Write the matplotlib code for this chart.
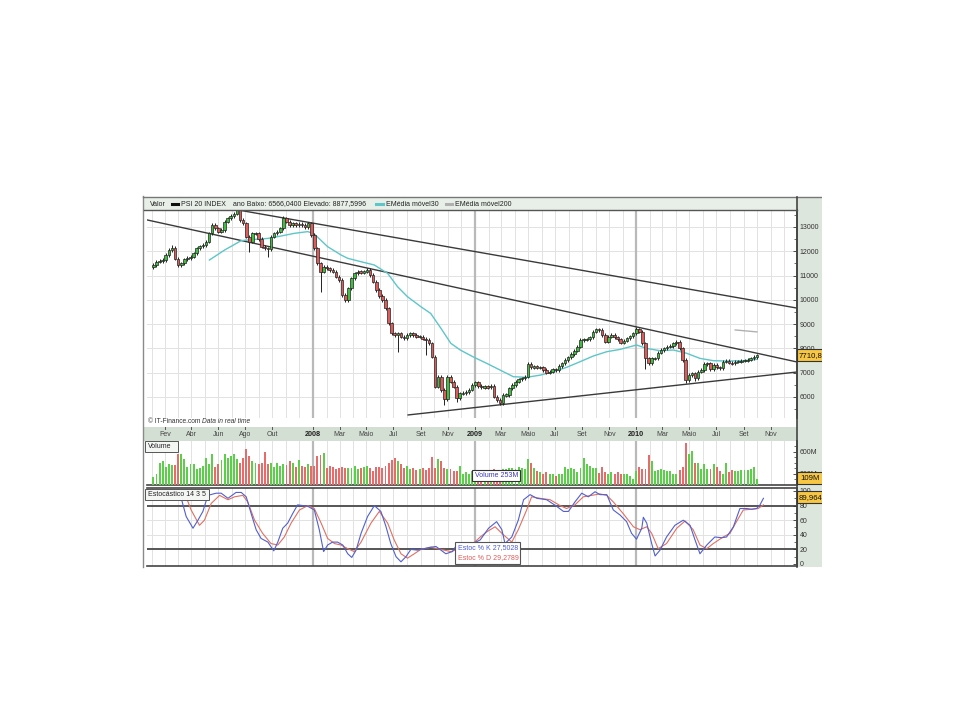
import numpy as np
import pandas as pd
import matplotlib
matplotlib.use('Agg')
import matplotlib.pyplot as plt
from matplotlib.patches import Rectangle
from matplotlib.lines import Line2D

plt.rcParams['font.family'] = ['Liberation Sans', 'DejaVu Sans']

# ---------------- data (weekly, PSI 20 INDEX) ----------------
start_date = '2007-01-05'
first_open = 11350
closes = [
    11430, 11570, 11600, 11640, 11850, 12050, 12150, 11700, 11430, 11500,
    11670, 11720, 11780, 11920, 12120, 12200, 12260, 12400, 12740, 13080,
    12950, 12810, 12880, 13220, 13360, 13450, 13550, 13700, 13290, 13150,
    12600, 12400, 12740, 12740, 12500, 12190, 12120, 12100, 12600, 12740,
    12810, 12945, 13360, 13220, 13080, 13150, 13080, 13120, 13080, 13000,
    13150, 12670, 12120, 11500, 11160, 11370, 11300, 11230, 11160, 10950,
    10820, 10200, 9990, 10470, 10890, 11090, 11160, 11130, 11160, 11230,
    11020, 10750, 10400, 10160, 9990, 9650, 9030, 8620, 8550, 8620,
    8480, 8410, 8550, 8620, 8550, 8480, 8480, 8400, 8345, 8210,
    7660, 6420, 6840, 6290, 5900, 6840, 6630, 6420, 5950, 6150,
    6170, 6200, 6300, 6500, 6600, 6450, 6400, 6420, 6400, 6450,
    6010, 5870, 5740, 6080, 6080, 6355, 6490, 6630, 6725, 6770,
    6835, 7360, 7220, 7250, 7220, 7220, 7110, 7000, 7040, 7140,
    7110, 7275, 7385, 7520, 7630, 7770, 7905, 8070, 8345, 8370,
    8370, 8450, 8690, 8785, 8760, 8550, 8280, 8480, 8550, 8455,
    8370, 8235, 8320, 8415, 8500, 8620, 8785, 8690, 8210, 7590,
    7385, 7590, 7590, 7825, 7935, 8000, 8070, 8100, 8210, 8280,
    8000, 7520, 6700, 6900, 6970, 6770, 7040, 7110, 7360, 7385,
    7140, 7320, 7220, 7180, 7455, 7495, 7410, 7385, 7455, 7455,
    7495, 7495, 7540, 7590, 7650, 7710.83,
]
notable_lows = {31: 11980, 37: 11780, 54: 10340, 62: 9900, 79: 7870, 88: 7730,
                94: 5650, 98: 5800, 112: 5670, 159: 7150, 172: 6566, 175: 6650}
notable_highs = {6: 12250, 27: 13750, 42: 13450, 143: 8850, 156: 8877.6}
wick_pad = 70

volumes_m = [
    130, 190, 400, 420, 310, 370, 355, 355, 550, 550,
    460, 320, 370, 370, 280, 300, 340, 490, 370, 550,
    310, 370, 440, 550, 490, 520, 550, 460, 400, 490,
    640, 520, 430, 400, 370, 400, 600, 370, 400, 320,
    390, 330, 380, 360, 420, 400, 320, 440, 340, 320,
    380, 330,
    330, 520, 540, 580, 300, 340, 320, 280, 300, 310,
    300, 300, 300, 340, 280, 300, 320, 340, 300, 250,
    310, 310, 300, 330, 400, 440, 480, 420, 380, 300,
    330, 280, 300, 260, 280, 300, 270, 300, 500, 300,
    460, 430, 300, 290, 290, 250, 250, 330, 200, 220,
    190, 250,
    220, 250, 260, 220, 250, 250, 280, 250, 260, 280,
    280, 300, 300, 280, 310, 300, 280, 470, 400, 300,
    240, 220, 200, 220, 200, 190, 160, 190, 200, 325,
    280, 300, 280, 220, 300, 490, 370, 340, 300, 300,
    205, 310, 220, 200, 220, 200, 220, 200, 200, 200,
    160, 100,
    250, 310, 280, 280, 540, 430, 250, 260, 280, 260,
    250, 250, 190, 200, 260, 320, 760, 550, 610, 400,
    400, 280, 370, 280, 280, 370, 310, 250, 200, 400,
    220, 260, 250, 240, 260, 260, 260, 280, 320, 109,
]

ema30_weeks = [18.1, 23, 28.4, 32.7, 37, 41.3, 45.6, 49.9, 52, 56.3, 60.6, 62.8,
               67.1, 71.4, 75.7, 78.9, 82.1, 86.4, 89.6, 92.9, 96.1, 99.2, 103.5,
               107.7, 112, 116.3, 120.6, 125, 129.2, 133.5, 137.9, 142.2, 146.5,
               150.8, 156.1, 159.4, 163.7, 168, 172.3, 176.6, 180.9, 185.2, 190.6, 194.9]
ema30_vals = [11640, 12050, 12440, 12490, 12530, 12630, 12740, 12810, 12710, 12190, 11850, 11710,
              11570, 11435, 11090, 10540, 10130, 9720, 9440, 8830, 8210, 7930, 7640,
              7385, 7110, 6835, 6810, 6900, 7040, 7220, 7455, 7690, 7865,
              7960, 8140, 8000, 7905, 7935, 7800, 7590, 7495, 7480, 7495, 7550]
ema200_weeks = [188, 195]
ema200_vals = [8760, 8680]

stoch_k_weeks = [9.0, 10.6, 12.8, 14.4, 16.0, 17.6, 20.3, 21.9, 24.1, 26.7, 28.4, 30, 31.6,
                 33.2, 34.8, 37, 38.9, 40.2, 41.8, 43.4, 45, 46.6, 48.3, 49.9, 52, 53.6, 55,
                 56.3, 57.9, 59.5, 61.2, 62.8, 64.1, 65.5, 67.1, 69.2, 71.4, 73.5, 75.1, 76.7,
                 78.4, 80, 81.6, 83.2, 85.3, 87.5, 89.6, 91.3, 92.9, 94.5, 96.6, 98.3, 100.5,
                 102.3, 105.6, 108.3, 110.9, 112.6, 113.6, 115.8, 117.9, 119.6, 121.7, 123.9,
                 127.1, 130.3, 132.5, 134.1, 136.2, 138.4, 140.5, 142.7, 144.3, 146.5, 148.6,
                 150.8, 152.9, 154.5, 156.1, 157.8, 158.3, 159.4, 161, 162.1, 163.7, 165.8,
                 168.5, 171.2, 173.4, 175, 176.6, 178.8, 181.4, 183.6, 185.2, 187.4, 189.5,
                 191.7, 193.3, 194.9, 196, 197.1]
stoch_k_vals = [90, 65, 49, 60, 72, 94, 97, 97, 90, 98, 98, 92, 69,
                47, 35, 30, 18, 30, 49, 56, 69, 81, 80, 79, 74, 47, 17,
                26, 30, 30, 26, 14, 9, 19, 42, 65, 80, 72, 52, 28,
                10, 3, 10, 20, 19, 21, 23, 24, 19, 14, 17, 28, 27,
                26, 33, 49, 58, 47, 28, 37, 60, 88, 95, 90,
                88, 79, 72, 72, 85, 97, 92, 99, 95, 95, 74,
                67, 58, 42, 34, 49, 64, 56, 28, 11, 19, 37,
                53, 60, 53, 33, 14, 26, 37, 36, 37, 51, 76,
                76, 75, 76, 81, 90]
stoch_d_weeks = [10.1, 12.2, 14.9, 16.5, 18.7, 21.4, 24.1, 26.2, 28.9, 30.5, 32.7, 35.3, 38,
                 40.2, 42.3, 44.5, 47.2, 49.9, 52, 54.2, 56.3, 58.5, 60.6, 62.8, 64.9, 67.1,
                 70.3, 73, 75.7, 77.8, 80, 82.1, 84.3, 86.4, 89.6, 92.9, 96.1, 98.3, 100.5,
                 102.3, 105.6, 107.7, 110.4, 113.1, 115.8, 117.9, 120.6, 122.2, 124.9, 128.2,
                 131.4, 133.5, 136.2, 138.9, 141.6, 144.3, 146.5, 148.6, 151.8, 155.1, 157.2,
                 159.4, 161, 163.1, 165.8, 169.1, 171.8, 174.4, 176.6, 178.8, 180.9, 184.1,
                 186.3, 188.4, 190.6, 193.3, 195.4, 197.1]
stoch_d_vals = [97, 74, 53, 60, 83, 94, 88, 92, 94, 85, 60, 42, 28,
                26, 37, 56, 74, 80, 76, 56, 35, 28, 26, 21, 17, 30,
                56, 72, 56, 33, 14, 8, 14, 20, 23, 20, 17, 20, 22,
                24, 37, 44, 51, 40, 30, 47, 74, 92, 90, 88,
                80, 76, 81, 92, 94, 96, 94, 85, 69, 51, 47,
                51, 42, 21, 28, 49, 59, 47, 26, 21, 28, 37,
                42, 58, 74, 75, 76, 81]

trend_upper = ([27.4, 208.0], [13700, 9660])
trend_middle = ([-2.0, 208.0], [13290, 7440])
trend_lower = ([82.3, 208.0], [5260, 7030])

month_tick_dates = ['2007-02-01', '2007-04-01', '2007-06-01', '2007-08-01', '2007-10-01',
                    '2008-01-01', '2008-03-01', '2008-05-01', '2008-07-01', '2008-09-01', '2008-11-01',
                    '2009-01-01', '2009-03-01', '2009-05-01', '2009-07-01', '2009-09-01', '2009-11-01',
                    '2010-01-01', '2010-03-01', '2010-05-01', '2010-07-01', '2010-09-01', '2010-11-01']
month_tick_labels = ['Fev', 'Abr', 'Jun', 'Ago', 'Out',
                     '2008', 'Mar', 'Maio', 'Jul', 'Set', 'Nov',
                     '2009', 'Mar', 'Maio', 'Jul', 'Set', 'Nov',
                     '2010', 'Mar', 'Maio', 'Jul', 'Set', 'Nov']
year_starts = ['2008-01-01', '2009-01-01', '2010-01-01']

last_price = 7710.83
last_price_label = '7710,83'
last_volume_label = '109M'
last_stoch_label = '89,964'
volume_box_label = 'Volume 253M'
stoch_k_label = 'Estoc % K 27,5028'
stoch_d_label = 'Estoc % D 29,2789'
last_stoch = 89.964

# ---------------- helpers ----------------
W, H = 960, 720
fig = plt.figure(figsize=(9.6, 7.2), dpi=100)
fig.patch.set_facecolor('white')


def rect(x0, y0, x1, y1):
    return [x0 / W, 1 - y1 / H, (x1 - x0) / W, (y1 - y0) / H]


def ptext(x, y, s, **kw):
    kw.setdefault('fontsize', 5)
    kw.setdefault('va', 'center')
    return fig.text(x / W, 1 - y / H, s, **kw)


def prect(x0, y0, x1, y1, **kw):
    r = Rectangle((x0 / W, 1 - y1 / H), (x1 - x0) / W, (y1 - y0) / H,
                  transform=fig.transFigure, **kw)
    fig.add_artist(r)
    return r


def pline(xs, ys, **kw):
    l = Line2D([x / W for x in xs], [1 - y / H for y in ys], transform=fig.transFigure, **kw)
    fig.add_artist(l)
    return l


def week_of(d):
    return (pd.Timestamp(d) - pd.Timestamp(start_date)).days / 7.0


GREEN = '#3fbf3f'
RED = '#e05a5a'
VGREEN = '#5ccf4a'
VRED = '#e86a6a'
GRID = '#e2e2e2'
YEARGRID = '#b9b9b9'
PANEL_BG = '#dde6dd'
XLIM = (-2.06, 207.95)

all_months = pd.date_range('2007-01-01', '2010-12-01', freq='MS')
month_weeks = [week_of(d) for d in all_months]
year_weeks = [week_of(d) for d in year_starts]

# backgrounds
prect(143, 197, 822, 567, facecolor='white', edgecolor='none', zorder=-3)
prect(797, 197, 822, 567, facecolor=PANEL_BG, edgecolor='none', zorder=-2)
prect(143, 427, 797, 441, facecolor='#d4dfd4', edgecolor='none', zorder=-2)


def style_axes(ax):
    ax.set_xlim(*XLIM)
    ax.set_facecolor('white')
    for s in ['left', 'top', 'bottom']:
        ax.spines[s].set_visible(False)
    ax.spines['right'].set_color('#444444')
    ax.spines['right'].set_linewidth(1.2)
    ax.set_xticks([])
    ax.yaxis.tick_right()
    ax.tick_params(axis='y', which='both', direction='in', colors='#333333',
                   labelsize=5, pad=2)
    ax.tick_params(axis='y', which='major', length=3, width=0.6)
    ax.tick_params(axis='y', which='minor', length=2, width=0.5)
    for w in month_weeks:
        ax.axvline(w, color=GRID, lw=0.7, zorder=0)
    for w in year_weeks:
        ax.axvline(w, color=YEARGRID, lw=1.6, zorder=0.5)


# ---------------- price panel ----------------
ax_p = fig.add_axes(rect(147, 210, 797, 418))
style_axes(ax_p)
ax_p.set_ylim(5134.6, 13700)
ax_p.set_yticks(np.arange(6000, 13001, 1000))
ax_p.set_yticks(np.arange(5500, 13600, 1000), minor=True)
ax_p.set_yticklabels([str(v) for v in range(6000, 13001, 1000)])
for v in range(6000, 13001, 1000):
    ax_p.axhline(v, color=GRID, lw=0.7, zorder=0)

for xs, ys in (trend_upper, trend_middle, trend_lower):
    ax_p.plot(xs, ys, color='#3a3a3a', lw=1.0, zorder=3)

ax_p.plot(ema30_weeks, ema30_vals, color='#5cc6c9', lw=1.0, zorder=3.5)
ax_p.plot(ema200_weeks, ema200_vals, color='#b0b0b0', lw=1.0, zorder=3.5)

c = np.array(closes, dtype=float)
o = np.r_[first_open, c[:-1]]
weeks = np.arange(len(c))
hi = np.maximum(o, c) + wick_pad
lo = np.minimum(o, c) - wick_pad
for k, v in notable_lows.items():
    lo[k] = v
for k, v in notable_highs.items():
    hi[k] = v
up = c >= o
ax_p.vlines(weeks, lo, hi, color='#222222', lw=0.7, zorder=4)
body = np.maximum(np.abs(c - o), 45)
ax_p.bar(weeks, body, bottom=np.minimum(o, c) - (body - np.abs(c - o)) / 2, width=0.85,
         color=np.where(up, GREEN, RED), edgecolor='#222222', linewidth=0.5, zorder=5)

# ---------------- volume panel ----------------
ax_v = fig.add_axes(rect(147, 441, 797, 484.5))
style_axes(ax_v)
ax_v.spines['bottom'].set_visible(True)
ax_v.spines['bottom'].set_color('#444444')
ax_v.spines['bottom'].set_linewidth(1.2)
ax_v.set_ylim(0, 792)
ax_v.set_yticks([200, 600])
ax_v.set_yticklabels(['200M', '600M'])
ax_v.set_yticks(np.arange(100, 800, 100), minor=True)
vcol = np.where(up, VGREEN, VRED)
ax_v.bar(weeks, volumes_m, width=0.62, color=vcol, edgecolor='none', zorder=3)

# ---------------- stochastic panel ----------------
ax_s = fig.add_axes(rect(147, 488, 797, 566))
style_axes(ax_s)
ax_s.spines['bottom'].set_visible(True)
ax_s.spines['top'].set_visible(True)
for s in ['bottom', 'top']:
    ax_s.spines[s].set_color('#444444')
    ax_s.spines[s].set_linewidth(1.2)
ax_s.set_ylim(-2.74, 104.1)
ax_s.set_yticks(np.arange(0, 101, 20))
ax_s.set_yticks(np.arange(10, 100, 20), minor=True)
for v in (40, 60):
    ax_s.axhline(v, color=GRID, lw=0.7, zorder=0)
ax_s.axhline(80, color='#555555', lw=1.4, zorder=1)
ax_s.axhline(20, color='#555555', lw=1.4, zorder=1)
ax_s.plot(stoch_d_weeks, stoch_d_vals, color='#e07060', lw=0.8, zorder=3)
ax_s.plot(stoch_k_weeks, stoch_k_vals, color='#5060d0', lw=0.8, zorder=3.2)

# ---------------- frame / decorations ----------------
pline([143, 143], [196, 567], color='#8a8a8a', lw=1.0)
pline([143, 822], [197, 197], color='#777777', lw=1.0)
pline([797, 797], [197, 567], color='#444444', lw=1.2)

# legend bar
prect(144, 198, 797, 210, facecolor='#e8efe8', edgecolor='none', zorder=0.5)
pline([144, 797], [210, 210], color='#555555', lw=1.0)
ly = 204
ptext(150, ly, 'Valor', color='#222222')
pline([172, 178], [ly, ly], color='#111111', lw=2.2)
ptext(181, ly, 'PSI 20 INDEX', color='#222222')
ptext(233, ly, 'ano Baixo: 6566,0400 Elevado: 8877,5996', color='#222222')
pline([376, 383], [ly, ly], color='#5cc6c9', lw=2.2)
ptext(386, ly, 'EMédia móvel30', color='#222222')
pline([446, 452], [ly, ly], color='#b0b0b0', lw=2.2)
ptext(455, ly, 'EMédia móvel200', color='#222222')

# copyright line
ptext(148, 421.5, '© IT-Finance.com', color='#333333', fontsize=4.8)
ptext(202, 421.5, 'Data in real time', color='#333333', fontsize=4.8, style='italic')

# month labels on the date band
for d, lab in zip(month_tick_dates, month_tick_labels):
    w = week_of(d)
    xpix = 147 + (w - XLIM[0]) / (XLIM[1] - XLIM[0]) * 650
    bold = lab.isdigit()
    ptext(xpix, 434, lab, ha='center', color='#222222' if bold else '#444444',
          fontsize=5.2 if bold else 5, fontweight='bold' if bold else 'normal')
    pline([xpix, xpix], [427, 429], color='#555555', lw=0.7)

# panel labels
prect(145, 441, 178, 452, facecolor='#f4f6f4', edgecolor='#555555', lw=0.7, zorder=2)
ptext(148, 446.5, 'Volume', color='#222222', fontsize=5)
prect(145, 489, 209, 500, facecolor='#f4f6f4', edgecolor='#555555', lw=0.7, zorder=2)
ptext(148, 494.5, 'Estocástico 14 3 5', color='#222222', fontsize=5)

prect(472, 470, 520, 481, facecolor='white', edgecolor='#333333', lw=0.8, zorder=2)
ptext(475, 475.5, volume_box_label, color='#3a3ab8', fontsize=5)

prect(455, 542, 520, 564, facecolor='white', edgecolor='#555555', lw=0.8, zorder=2)
ptext(458, 548, stoch_k_label, color='#4b5bd6', fontsize=5)
ptext(458, 558, stoch_d_label, color='#e05a5a', fontsize=5)


# last value boxes on the right axis
def ypix_price(v):
    return 210 + (13700 - v) / (13700 - 5134.6) * 208


def ypix_stoch(v):
    return 488 + (104.1 - v) / (104.1 + 2.74) * 78


yp = ypix_price(last_price)
prect(797, yp - 6, 823, yp + 6, facecolor='#f7c744', edgecolor='#333333', lw=0.8, zorder=2)
ptext(799, yp, last_price_label, color='#111111', fontsize=5.6, zorder=4)

prect(797, 472, 823, 484, facecolor='#f7c744', edgecolor='#333333', lw=0.8, zorder=2)
ptext(800, 478, last_volume_label, color='#111111', fontsize=5.6, zorder=4)

ys = ypix_stoch(last_stoch) - 1
prect(797, ys - 6, 823, ys + 6, facecolor='#f7c744', edgecolor='#333333', lw=0.8, zorder=2)
ptext(799, ys, last_stoch_label, color='#111111', fontsize=5.6, zorder=4)

# crop of the screenshot at the right edge
prect(822, 180, 960, 600, facecolor='white', edgecolor='none', zorder=10)

fig.savefig('out.png', dpi=100, facecolor='white')
